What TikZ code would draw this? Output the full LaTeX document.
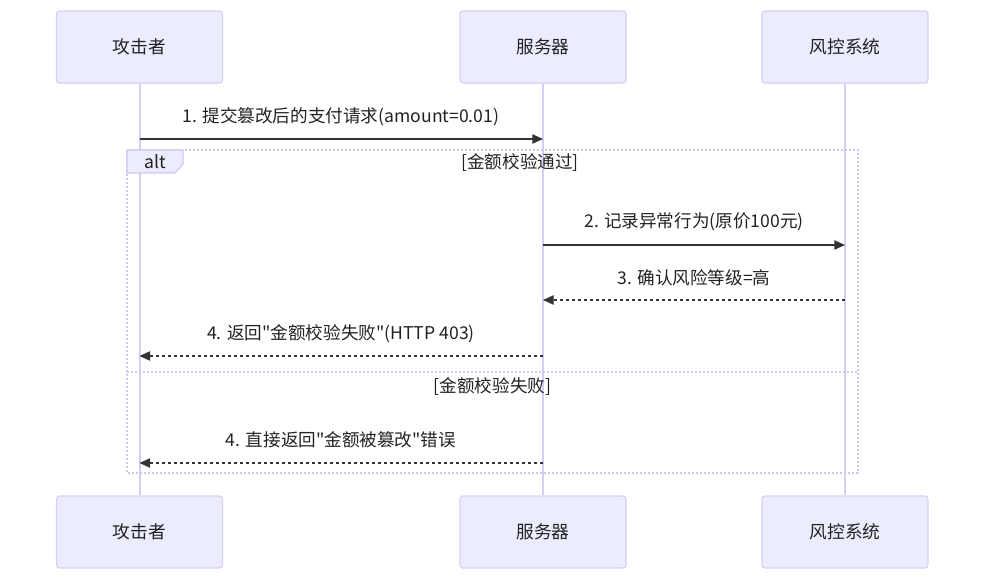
\documentclass[tikz,border=0pt]{standalone}
\usepackage{fontspec}
\setmainfont[Mapping=]{Noto Sans CJK SC}
\usetikzlibrary{arrows.meta}
\definecolor{boxfill}{HTML}{ECECFF}
\definecolor{boxline}{HTML}{D9CFF6}
\definecolor{lifeline}{HTML}{D6CCF5}
\definecolor{altline}{HTML}{CFC6F3}
\definecolor{txt}{HTML}{222222}
\definecolor{arr}{HTML}{333333}
\tikzset{
  actor/.style={draw=boxline, fill=boxfill, line width=0.9pt, rounded corners=2.2pt,
    minimum width=124.5pt, minimum height=54pt, inner sep=0pt, font=\fontsize{13.3}{15}\selectfont, text=txt},
  life/.style={draw=lifeline, line width=1.5pt},
  msg/.style={draw=arr, line width=1pt, -{Triangle[length=8pt,width=7pt]}},
  reply/.style={msg, dash pattern=on 2.25pt off 2.25pt},
  lbl/.style={font=\fontsize{13.2}{15}\selectfont, text=txt, inner sep=0pt},
  altbox/.style={draw=altline, line width=1.5pt, dash pattern=on 1.5pt off 1.5pt},
}
\begin{document}
\begin{tikzpicture}[x=0.75pt,y=-0.75pt]
\useasboundingbox (0,0) rectangle (986,582);
% participants
\node[actor] (at) at (139.5,47) {攻击者};
\node[actor] (sv) at (543,47) {服务器};
\node[actor] (rk) at (845,47) {风控系统};
\node[actor] (atb) at (139.5,532) {攻击者};
\node[actor] (svb) at (543,532) {服务器};
\node[actor] (rkb) at (845,532) {风控系统};
% lifelines
\draw[life] (at.south) -- (atb.north);
\draw[life] (sv.south) -- (svb.north);
\draw[life] (rk.south) -- (rkb.north);
% alt frame
\draw[altbox] (127,150) rectangle (858,473);
\draw[altbox] (127,372) -- (858,372);
\draw[draw=altline, fill=boxfill, line width=0.9pt] (127,150) -- (183,150) -- (183,164) -- (175,173) -- (127,173) -- cycle;
\node[lbl] (altl) at (155,162) {alt};
\node[lbl] (c1) at (520,163) {[金额校验通过]};
\node[lbl] (c2) at (492.5,387) {[金额校验失败]};
% message anchors
\coordinate (m1a) at (139.5,139); \coordinate (m1b) at (543,139);
\coordinate (m2a) at (543,245);   \coordinate (m2b) at (845,245);
\coordinate (m3a) at (845,300);   \coordinate (m3b) at (543,300);
\coordinate (m4a) at (543,356);   \coordinate (m4b) at (139.5,356);
\coordinate (m5a) at (543,463);   \coordinate (m5b) at (139.5,463);
% messages
\draw[msg] (m1a) -- (m1b);
\node[lbl] (l1) at (341,117) {1. 提交篡改后的支付请求(amount=0.01)};
\draw[msg] (m2a) -- (m2b);
\node[lbl] (l2) at (694,222) {2. 记录异常行为(原价100元)};
\draw[reply] (m3a) -- (m3b);
\node[lbl] (l3) at (694,278) {3. 确认风险等级=高};
\draw[reply] (m4a) -- (m4b);
\node[lbl] (l4) at (341,334) {4. 返回\symbol{34}金额校验失败\symbol{34}(HTTP 403)};
\draw[reply] (m5a) -- (m5b);
\node[lbl] (l5) at (341,440) {4. 直接返回\symbol{34}金额被篡改\symbol{34}错误};
\end{tikzpicture}
\end{document}
